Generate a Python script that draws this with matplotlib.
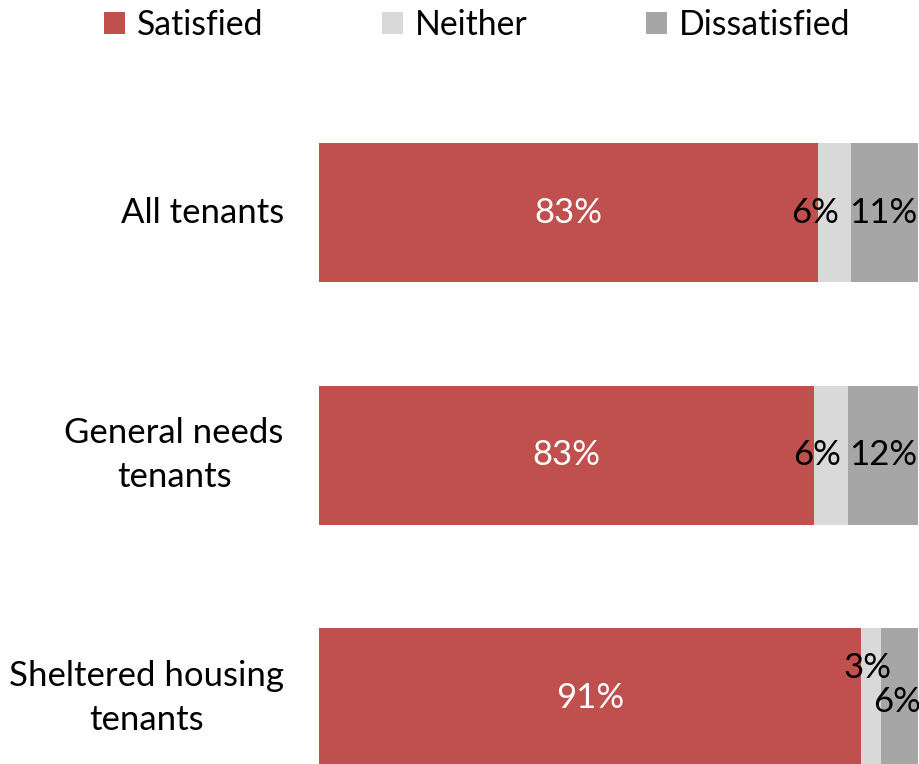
import matplotlib
matplotlib.use("Agg")
import matplotlib.pyplot as plt
import numpy as np

plt.rcParams['font.family'] = ['Lato', 'DejaVu Sans']

categories = ["All tenants", "General needs\ntenants", "Sheltered housing\ntenants"]
series_names = ["Satisfied", "Neither", "Dissatisfied"]
satisfied = [83.3, 82.7, 90.6]
neither = [5.6, 5.7, 3.2]
dissatisfied = [11.1, 11.6, 6.2]

colors = ["#C0504D", "#D9D9D9", "#A6A6A6"]
text_colors = ["white", "black", "black"]
# label nudges in pixels (dx, dy) per series, per category
nudges = [
    [(0, 0), (0, 0), (0, 0)],
    [(-19, 0), (-14, 0), (-4, 30)],
    [(-1, 0), (0, 0), (-2, -4)],
]

fs = 25
fig = plt.figure(figsize=(9.2, 7.64), dpi=100)
ax = fig.add_axes([318.5 / 920, 0, 599.3 / 920, 664 / 764])

y = np.arange(len(categories))
left = np.zeros(len(categories))
handles = []
for k, vals in enumerate([satisfied, neither, dissatisfied]):
    vals = np.array(vals)
    bars = ax.barh(y, vals, left=left, height=0.573, color=colors[k],
                   label=series_names[k])
    handles.append(bars)
    for i, b in enumerate(bars):
        cx = b.get_x() + b.get_width() / 2
        cy = b.get_y() + b.get_height() / 2
        ax.annotate(f"{round(vals[i])}%", (cx, cy), xytext=nudges[k][i],
                    textcoords="offset pixels", ha="center", va="center",
                    fontsize=fs, color=text_colors[k], annotation_clip=False)
    left += vals

ax.set_xlim(0, 100)
ax.set_ylim(2.272, -0.4635)
ax.set_yticks(y)
ax.set_yticklabels(categories, fontsize=fs, multialignment="center",
                   linespacing=1.45, va="center")
ax.tick_params(axis="y", length=0, pad=25)
ax.set_xticks([])
for s in ax.spines.values():
    s.set_visible(False)

# one legend per entry so the entries sit where they should across the top
legend_x = [104, 382, 646]
for h, x in zip(handles, legend_x):
    fig.legend(handles=[h], loc="center left",
               bbox_to_anchor=(x / 920, 1 - 25 / 764), frameon=False,
               fontsize=24.3, handlelength=0.62, handleheight=0.62,
               handletextpad=0.35, borderpad=0, borderaxespad=0)

fig.savefig("out.png", dpi=100)
